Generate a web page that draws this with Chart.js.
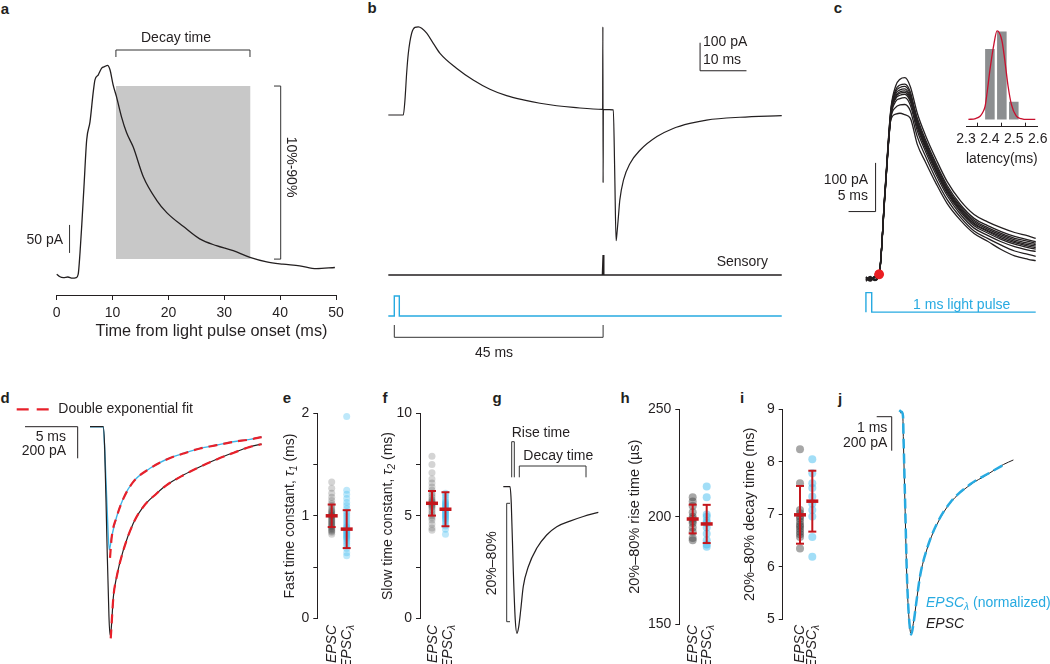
<!DOCTYPE html>
<html>
<head>
<meta charset="utf-8">
<script src="https://cdn.jsdelivr.net/npm/chart.js@4.4.1/dist/chart.umd.min.js"></script>
<style>
  body { margin: 0; background: #fff; width: 1050px; height: 664px; position: relative; overflow: hidden;
         font-family: "Liberation Sans", Arial, Helvetica, sans-serif; }
  canvas { position: absolute; }
  .lt { position: absolute; font-weight: bold; font-size: 15px; color: #231f20; transform: translate(-50%, -50%); }
</style>
</head>
<body>
<div class="lt" style="left:5px;top:8px">a</div>
<div class="lt" style="left:372px;top:7px">b</div>
<div class="lt" style="left:838px;top:7px">c</div>
<div class="lt" style="left:5px;top:397px">d</div>
<div class="lt" style="left:287px;top:397px">e</div>
<div class="lt" style="left:385px;top:397px">f</div>
<div class="lt" style="left:497px;top:397px">g</div>
<div class="lt" style="left:625px;top:397px">h</div>
<div class="lt" style="left:742px;top:397px">i</div>
<div class="lt" style="left:840px;top:398px">j</div>

<canvas id="pa"></canvas>
<canvas id="pb"></canvas>
<canvas id="pc"></canvas>
<canvas id="pcHist"></canvas>
<canvas id="pd"></canvas>
<canvas id="pe"></canvas>
<canvas id="pf"></canvas>
<canvas id="pg"></canvas>
<canvas id="ph"></canvas>
<canvas id="pi"></canvas>
<canvas id="pj"></canvas>

<script>
// --- Data ---

// a: EPSC evoked by light (time in ms, current in pA, outward up)
const aTime = [0, 0.5, 1.2, 2.0, 2.8, 3.5, 3.85, 4.17, 4.47, 4.88, 5.37, 5.96, 6.55, 6.85, 7.45, 8.05, 8.64, 9.1, 9.54, 10.1, 10.7, 11.6, 12.5, 13.7, 15.5, 17.9, 19.7, 22.7, 25.6, 28.6, 31.6, 34.6, 37.6, 40.5, 43.5, 46.5, 49.8];
const aCurrent = [5, 1, -1, 0, -2, -1, 5, 43, 90, 161, 245, 277, 331, 352, 361, 373, 376, 378, 370, 343, 322, 286, 258, 232, 179, 137, 115, 90, 68, 56, 47, 35, 27, 23, 20, 15, 17];
const aBandTime = [10.6, 34.7];     // decay-time window
const aBandLevel = [32, 341];       // 10% and 90% levels

// b: light then sensory stimulation
const bTime = [-1.29, 1.94, 2.3, 2.66, 3.02, 3.74, 4.46, 5.18, 5.9, 6.98, 8.4, 9.85, 13.4, 17.0, 20.6, 24.2, 27.8, 31.4, 35.0, 38.6, 44.9, 44.95, 45.0, 45.05, 45.1, 47.2, 47.5, 47.8, 48.0, 48.3, 48.6, 49.4, 50.8, 53.0, 56.6, 60.1, 63.7, 67.3, 74.5, 83.5];
const bCurrent = [0, 0, 54, 149, 220, 292, 313, 315, 310, 292, 256, 220, 167, 125, 92, 69, 54, 42, 33, 27, 20, 315, -242, 20, 20, 18, -200, -449, -420, -363, -304, -232, -173, -125, -77, -48, -30, -18, -8, -2];
const bSensTime = [-1.29, 44.85, 45.0, 45.15, 83.5];
const bSens = [0, 0, 1, 0, 0];
const bLightTime = [-1.29, 0, 0, 1.08, 1.08, 83.5];
const bLight = [0, 0, 1, 1, 0, 0];

// c: ten overlaid light-evoked EPSCs
const cTime = [0, 0.8, 1.6, 2.45, 3.5, 4.6, 5.5, 6.3, 7.2, 8.2, 9.5, 11, 13, 15, 17.5, 20, 22.5, 25, 27.5, 30, 31.4];
const cCurrent = [
  [3, -4, 5, 9, 178, 348, 396, 410, 413, 395, 340, 295, 245, 200, 160, 132, 117, 105, 95, 88, 83],
  [-5, 2, -3, 8, 172, 345, 388, 398, 400, 384, 326, 282, 232, 188, 148, 120, 105, 93, 83, 77, 73],
  [2, -3, 4, 10, 176, 343, 384, 393, 395, 379, 322, 278, 228, 185, 145, 117, 102, 90, 80, 73, 70],
  [-2, 5, -4, 9, 170, 340, 380, 388, 390, 375, 330, 286, 236, 192, 152, 124, 109, 97, 87, 80, 76],
  [4, -2, 3, 11, 175, 338, 376, 384, 386, 371, 315, 272, 222, 179, 140, 112, 97, 84, 74, 67, 64],
  [-3, 3, -1, 8, 168, 336, 373, 381, 383, 368, 318, 275, 225, 182, 142, 114, 99, 87, 77, 70, 67],
  [1, -5, 2, 10, 174, 334, 370, 377, 379, 364, 311, 268, 219, 176, 137, 109, 94, 81, 71, 64, 61],
  [-1, 4, -2, 9, 169, 331, 364, 370, 372, 357, 304, 262, 213, 171, 132, 104, 89, 76, 66, 59, 56],
  [3, -2, 5, 10, 173, 329, 352, 357, 358, 345, 292, 252, 204, 163, 126, 98, 83, 69, 57, 50, 46],
  [-3, 1, -3, 9, 171, 326, 338, 340, 337, 330, 276, 240, 195, 155, 120, 93, 77, 60, 47, 40, 37]
];
const cOnsetLatency = [2.38, 2.40, 2.41, 2.42, 2.44, 2.45, 2.45, 2.46, 2.47, 2.51];
const cOnsetCurrent = [9, 9, 10, 8, 9, 10, 9, 8, 10, 9];
const cLightTime = [0, 0, 1.07, 1.07, 31.4];
const cLight = [0, 1, 1, 0, 0];
const cBinLatency = [2.40, 2.45, 2.50];
const cBinCount = [4, 5, 1];
const cFitLatency = [2.31, 2.34, 2.36, 2.372, 2.38, 2.39, 2.40, 2.417, 2.43, 2.45, 2.462, 2.476, 2.49, 2.51, 2.53, 2.56, 2.59];
const cFitCount = [0, 0.05, 0.2, 0.45, 0.75, 1.7, 2.8, 4.3, 5.03, 4.5, 3.4, 1.9, 0.85, 0.2, 0.05, 0, 0];

// d: EPSC (black) and EPSC-lambda (blue) with double exponential fits
const dBlackTime = [0, 1.26, 1.4, 1.6, 1.8, 1.9, 2.0, 2.22, 2.53, 3.17, 4.11, 5.06, 6.33, 7.28, 8.86, 10.45, 12.03, 13.6, 15.2, 16.3];
const dBlack = [0, 0, -150, -700, -1200, -1318, -1290, -1076, -949, -780, -611, -506, -422, -369, -306, -253, -206, -165, -127, -110];
const dBlueTime = [0, 1.26, 1.45, 1.65, 1.83, 2.06, 2.53, 3.17, 4.11, 5.7, 7.28, 8.86, 10.45, 12.03, 13.6, 15.2, 16.3];
const dBlue = [0, 0, -230, -560, -780, -696, -570, -453, -348, -263, -206, -169, -137, -116, -95, -80, -65];
const dFitBlackTime = [1.97, 2.22, 2.53, 3.17, 4.11, 5.06, 6.33, 7.28, 8.86, 10.45, 12.03, 13.6, 15.2, 16.3];
const dFitBlack = [-1340, -1080, -952, -782, -612, -507, -423, -370, -307, -254, -207, -166, -128, -111];
const dFitBlueTime = [1.9, 2.06, 2.53, 3.17, 4.11, 5.7, 7.28, 8.86, 10.45, 12.03, 13.6, 15.2, 16.3];
const dFitBlue = [-830, -700, -572, -455, -349, -264, -207, -170, -138, -117, -96, -81, -66];

// e, f, h, i: per-cell values, EPSC (grey) vs EPSC-lambda (blue), mean and SD
const eEPSC = [1.33, 1.27, 1.22, 1.18, 1.15, 1.12, 1.1, 1.08, 1.06, 1.05, 1.04, 1.03, 1.02, 1.01, 1.0, 1.0, 0.99, 0.98, 0.97, 0.96, 0.95, 0.94, 0.93, 0.92, 0.91, 0.9, 0.89, 0.88, 0.87, 0.86, 0.85, 0.84, 0.82];
const eLambda = [1.97, 1.25, 1.21, 1.17, 1.13, 1.1, 1.07, 1.04, 1.02, 1.0, 0.98, 0.96, 0.94, 0.92, 0.9, 0.89, 0.88, 0.87, 0.86, 0.85, 0.84, 0.83, 0.82, 0.81, 0.8, 0.79, 0.78, 0.77, 0.75, 0.73, 0.71, 0.68, 0.64, 0.61];
const eMean = [1.0, 0.87];
const eSD = [0.11, 0.185];

const fEPSC = [7.9, 7.5, 7.1, 6.8, 6.6, 6.4, 6.25, 6.1, 6.0, 5.9, 5.8, 5.75, 5.7, 5.65, 5.6, 5.55, 5.5, 5.45, 5.4, 5.3, 5.2, 5.1, 5.0, 4.9, 4.8, 4.6, 4.4, 4.3];
const fLambda = [6.1, 6.0, 5.9, 5.8, 5.7, 5.65, 5.6, 5.55, 5.5, 5.45, 5.4, 5.35, 5.3, 5.25, 5.2, 5.15, 5.1, 5.05, 5.0, 4.95, 4.9, 4.85, 4.8, 4.7, 4.6, 4.5, 4.35, 4.1];
const fMean = [5.61, 5.32];
const fSD = [0.6, 0.83];

const hEPSC = [209, 207, 205, 202, 200, 199, 198, 197, 195, 193, 190, 189];
const hLambda = [214, 209, 201, 200, 198, 197, 195, 192, 189, 187, 186];
const hMean = [198.9, 196.6];
const hSD = [6.7, 8.9];

const iEPSC = [8.24, 7.59, 7.08, 7.02, 6.96, 6.92, 6.86, 6.8, 6.77, 6.72, 6.67, 6.62, 6.57, 6.35];
const iLambda = [8.05, 7.78, 7.59, 7.5, 7.34, 7.2, 7.08, 6.96, 6.57, 6.19];
const iMean = [6.99, 7.25];
const iSD = [0.55, 0.58];

// g: schematic EPSC
const gTime = [0, 0.64, 0.76, 0.95, 1.14, 1.3, 1.47, 1.66, 1.9, 2.38, 3.18, 4.13, 5.09, 6.35, 7.62, 9.05];
const gCurrent = [0, 0, -150, -750, -1201, -1321, -1261, -1111, -901, -721, -555, -435, -360, -310, -268, -231];

// j: EPSC vs normalized EPSC-lambda
const jTime = [0, 0.18, 0.22, 0.33, 0.44, 0.56, 0.73, 0.89, 1.11, 1.33, 1.78, 2.44, 3.33, 4.67, 5.78, 6.89, 7.56];
const jCurrent = [0, 0, -141, -533, -925, -1160, -1298, -1239, -1102, -965, -808, -661, -533, -425, -366, -305, -278];
const jLambdaTime = [-0.05, 0.1, 0.2, 0.24, 0.35, 0.46, 0.58, 0.75, 0.9, 1.12, 1.35, 1.8, 2.45, 3.35, 4.7, 5.8, 7.1];
const jLambda = [15, 5, -20, -160, -560, -950, -1180, -1305, -1240, -1095, -955, -800, -655, -528, -420, -362, -298];

// --- Styling helpers ---
const INK = '#231f20';
const BLUE = '#27aae1';
const RED = '#c4161c';
const FIT_RED = '#e8202a';
const FONT = '"Liberation Sans", Arial, Helvetica, sans-serif';

Chart.defaults.font.family = FONT;
Chart.defaults.font.size = 14;
Chart.defaults.color = INK;

const xy = (xs, ys) => xs.map((x, i) => ({ x, y: ys[i] }));

function trace(xs, ys, color, width, extra) {
  return Object.assign({
    type: 'line', data: xy(xs, ys), borderColor: color, borderWidth: width,
    pointRadius: 0, fill: false, cubicInterpolationMode: 'monotone', clip: false
  }, extra);
}

const hidden = (min, max) => ({ type: 'linear', display: false, min, max });

// text with italic / subscript runs, optional rotation (page coordinates)
function drawRich(ctx, item, ox, oy) {
  const size = item.size || 14;
  const parts = typeof item.t === 'string' ? [{ s: item.t }] : item.t;
  const fontOf = p => (p.i ? 'italic ' : '') + (p.sub ? size * 0.72 : size) + 'px ' + FONT;
  const widths = parts.map(p => { ctx.font = fontOf(p); return ctx.measureText(p.s).width; });
  const w = widths.reduce((a, b) => a + b, 0);
  ctx.save();
  ctx.translate(item.x - ox, item.y - oy);
  if (item.rot) ctx.rotate(item.rot * Math.PI / 180);
  let x = item.align === 'right' ? -w : item.align === 'left' ? 0 : -w / 2;
  ctx.textBaseline = 'middle';
  ctx.textAlign = 'left';
  parts.forEach((p, k) => {
    ctx.font = fontOf(p);
    ctx.fillStyle = p.c || item.c || INK;
    ctx.fillText(p.s, x, p.sub ? size * 0.3 : 0);
    x += widths[k];
  });
  ctx.restore();
}

// scale bars, brackets and labels
function annotations(box, spec) {
  return {
    id: 'annot',
    afterDatasetsDraw(chart) {
      const ctx = chart.ctx, ox = box[0], oy = box[1];
      ctx.save();
      (spec.lines || []).forEach(l => {
        const sx = chart.scales.x, sy = chart.scales[l.axis || 'y'];
        ctx.beginPath();
        l.pts.forEach((p, i) => {
          const X = l.px ? p[0] - ox : sx.getPixelForValue(p[0]);
          const Y = l.py ? p[1] - oy : sy.getPixelForValue(p[1]);
          if (i) ctx.lineTo(X, Y); else ctx.moveTo(X, Y);
        });
        ctx.strokeStyle = l.color || INK;
        ctx.lineWidth = l.width || 1;
        ctx.setLineDash(l.dash || []);
        ctx.stroke();
      });
      ctx.setLineDash([]);
      (spec.texts || []).forEach(t => drawRich(ctx, t, ox, oy));
      ctx.restore();
    }
  };
}

function panel(id, box, scales, datasets, spec, padding) {
  const cv = document.getElementById(id);
  cv.width = box[2];
  cv.height = box[3];
  cv.style.left = box[0] + 'px';
  cv.style.top = box[1] + 'px';
  return new Chart(cv, {
    type: 'scatter',
    data: { datasets },
    options: {
      responsive: false, animation: false, events: [],
      layout: { padding: padding || 0 },
      plugins: { legend: { display: false }, tooltip: { enabled: false } },
      scales
    },
    plugins: [annotations(box, spec || {})]
  });
}

function yAxis(min, max, step, width, fmt) {
  return {
    type: 'linear', position: 'left', min, max,
    afterFit: s => { s.width = width; },
    border: { display: true, color: INK, width: 1 },
    grid: { display: true, drawOnChartArea: false, drawTicks: true, tickLength: 4, color: INK },
    ticks: { stepSize: step, padding: 4, color: INK, font: { size: 14 }, callback: fmt || (v => v) }
  };
}

function stripSets(groups, means, sds, r, alpha) {
  const cols = ['rgba(60,60,60,' + alpha[0] + ')', 'rgba(70,190,240,' + alpha[1] + ')'];
  const sets = [];
  groups.forEach((vals, k) => {
    const x = k + 1;
    const ends = [{ x, y: means[k] - sds[k] }, { x, y: means[k] + sds[k] }];
    sets.push({ type: 'scatter', data: vals.map(v => ({ x, y: v })), pointRadius: r,
      pointBackgroundColor: cols[k], pointBorderWidth: 0, order: 3, clip: false });
    sets.push({ type: 'line', data: ends, borderColor: RED, borderWidth: 2, pointRadius: 0, order: 1, clip: false });
    sets.push({ type: 'scatter', data: ends, pointStyle: 'line', pointRadius: 4,
      pointBorderColor: RED, pointBorderWidth: 2, order: 0, clip: false });
    sets.push({ type: 'scatter', data: [{ x, y: means[k] }], pointStyle: 'line', pointRadius: 6,
      pointBorderColor: RED, pointBorderWidth: 3.5, order: 0, clip: false });
  });
  return sets;
}

const groupLabels = (x1, x2) => [
  { x: x1, y: 625, rot: -90, align: 'right', t: [{ s: 'EPSC', i: 1 }] },
  { x: x2, y: 625, rot: -90, align: 'right', t: [{ s: 'EPSC', i: 1 }, { s: 'λ', i: 1, sub: 1 }] }
];

// --- a: decay time of light-evoked EPSC ---
panel('pa', [0, 0, 350, 345], {
  x: {
    type: 'linear', position: 'bottom', min: 0, max: 50,
    afterFit: s => { s.height = 50; },
    border: { display: true, color: INK },
    grid: { drawOnChartArea: false, tickLength: 5, color: INK },
    ticks: { stepSize: 10, padding: 5, color: INK, maxRotation: 0 }
  },
  y: hidden(-32.1, 458.9)
}, [
  trace(aTime, aCurrent, INK, 1.3, { order: 0 }),
  { type: 'line', data: xy(aBandTime, [aBandLevel[1], aBandLevel[1]]), borderWidth: 0, pointRadius: 0,
    backgroundColor: '#c8c8c8', fill: { value: aBandLevel[0] }, order: 1 }
], {
  lines: [
    { pts: [[aBandTime[0], 57], [aBandTime[0], 50], [aBandTime[1] - 0.1, 50], [aBandTime[1] - 0.1, 57]], py: true, color: '#333' },
    { pts: [[274, aBandLevel[1]], [280.7, aBandLevel[1]], [280.7, aBandLevel[0]], [274, aBandLevel[0]]], px: true, color: '#333' },
    { pts: [[2.3, 43], [2.3, 93]], color: '#333' }
  ],
  texts: [
    { x: 176, y: 38, t: 'Decay time' },
    { x: 291, y: 167, t: '10%-90%', rot: 90 },
    { x: 63, y: 240, t: '50 pA', align: 'right' },
    { x: 211.5, y: 332, t: 'Time from light pulse onset (ms)', size: 16.3 }
  ]
}, { left: 56.7, right: 14, top: 20, bottom: 0 });

// --- b: light pulse then sensory stimulation ---
panel('pb', [380, 0, 410, 370], {
  x: hidden(-3.082, 85.28),
  y: hidden(-910.7, 410.7),
  ySens: hidden(-4.75, 13.75),
  yLight: hidden(-2.7, 15.8)
}, [
  trace(bTime, bCurrent, INK, 1.2),
  trace(bSensTime, bSens, INK, 1.4, { yAxisID: 'ySens', cubicInterpolationMode: 'default', tension: 0 }),
  trace(bLightTime, bLight, BLUE, 1.4, { yAxisID: 'yLight', cubicInterpolationMode: 'default', tension: 0 })
], {
  lines: [
    { pts: [[65.9, 258], [65.9, 158], [75.9, 158]] },
    { pts: [[0, 325], [0, 337.3], [45, 337.3], [45, 325]], py: true, color: '#333' }
  ],
  texts: [
    { x: 703, y: 42.5, t: '100 pA', align: 'left' },
    { x: 703, y: 60, t: '10 ms', align: 'left' },
    { x: 768, y: 261.7, t: 'Sensory', align: 'right' },
    { x: 494, y: 353, t: '45 ms' }
  ]
});

// --- c: overlaid traces and latency histogram ---
panel('pc', [790, 0, 260, 340], {
  x: hidden(-13.21, 33.21),
  y: hidden(-116.6, 563.4),
  yLight: hidden(-1.2, 15.8)
}, [
  ...cCurrent.map(vals => trace(cTime, vals, INK, 1.3, { order: 1 })),
  { type: 'scatter', data: xy(cOnsetLatency, cOnsetCurrent), pointRadius: 4.5,
    pointBackgroundColor: 'rgba(235,30,35,0.45)', pointBorderWidth: 0, order: 0 },
  trace(cLightTime, cLight, BLUE, 1.4, { yAxisID: 'yLight', cubicInterpolationMode: 'default', tension: 0 })
], {
  lines: [{ pts: [[-3.214, 138], [1.786, 138], [1.786, 238]] }],
  texts: [
    { x: 868, y: 180, t: '100 pA', align: 'right' },
    { x: 868, y: 196.5, t: '5 ms', align: 'right' },
    { x: 961.7, y: 305, t: '1 ms light pulse', c: BLUE }
  ]
});

panel('pcHist', [955, 20, 95, 150], {
  x: {
    type: 'linear', position: 'bottom', min: 2.3, max: 2.6, offset: false,
    afterFit: s => { s.height = 43.3; },
    border: { display: true, color: INK },
    grid: { drawOnChartArea: false, tickLength: -4, color: INK },
    ticks: { stepSize: 0.1, padding: 1, color: INK, maxRotation: 0, autoSkip: false,
             font: { size: 14, lineHeight: 2.25 }, callback: v => v.toFixed(1) },
    title: { display: true, text: 'latency(ms)', color: INK, padding: { top: 0, bottom: 2.3 } }
  },
  y: hidden(-0.412, 5.65)
}, [
  trace(cFitLatency, cFitCount, '#c8102e', 1.3, { order: 0 }),
  { type: 'bar', data: xy(cBinLatency, cBinCount), backgroundColor: '#8c8e90',
    barPercentage: 0.8, categoryPercentage: 1, order: 1 }
], {}, { left: 11, right: 12.3, top: 0, bottom: 0 });

// --- d: double exponential fits ---
panel('pd', [0, 375, 275, 275], {
  x: hidden(-8.547, 17.569),
  y: hidden(-1413.3, 327.2)
}, [
  trace(dBlackTime, dBlack, INK, 1.2, { order: 1 }),
  trace(dBlueTime, dBlue, '#3fb5e6', 1.4, { order: 2 }),
  trace(dFitBlackTime, dFitBlack, FIT_RED, 2.2, { borderDash: [9, 6], order: 0 }),
  trace(dFitBlueTime, dFitBlue, FIT_RED, 2.2, { borderDash: [9, 6], order: 0 })
], {
  lines: [
    { pts: [[16.7, 409.3], [51.7, 409.3]], px: true, py: true, color: FIT_RED, width: 2.2, dash: [12, 8] },
    { pts: [[-6.17, 0], [-1.17, 0], [-1.17, -200]] }
  ],
  texts: [
    { x: 58.3, y: 409.3, t: 'Double exponential fit', align: 'left' },
    { x: 66, y: 436.7, t: '5 ms', align: 'right' },
    { x: 66, y: 451, t: '200 pA', align: 'right' }
  ]
});

// --- e: fast time constant ---
panel('pe', [270, 380, 105, 284], {
  x: hidden(0.04, 3.22),
  y: yAxis(0, 2, 0.5, 47.3, v => Number.isInteger(v) ? v : '')
}, stripSets([eEPSC, eLambda], eMean, eSD, 3.5, [0.22, 0.35]), {
  texts: [
    { x: 290, y: 516, rot: -90, t: [{ s: 'Fast time constant, ' }, { s: 'τ', i: 1 }, { s: '1', i: 1, sub: 1 }, { s: ' (ms)' }] },
    ...groupLabels(331.7, 346.7)
  ]
}, { left: 0, top: 33.3, right: 10, bottom: 45.7 });

// --- f: slow time constant ---
panel('pf', [375, 380, 95, 284], {
  x: hidden(0.113, 3.113),
  y: yAxis(0, 10, 2.5, 45, v => v % 5 === 0 ? v : '')
}, stripSets([fEPSC, fLambda], fMean, fSD, 3.5, [0.22, 0.35]), {
  texts: [
    { x: 388.3, y: 516, rot: -90, t: [{ s: 'Slow time constant, ' }, { s: 'τ', i: 1 }, { s: '2', i: 1, sub: 1 }, { s: ' (ms)' }] },
    ...groupLabels(433.3, 448.3)
  ]
}, { left: 0, top: 33.3, right: 5, bottom: 45.7 });

// --- g: definition of rise and decay time ---
panel('pg', [480, 380, 130, 270], {
  x: hidden(-2.219, 10.162),
  y: hidden(-1471.2, 961.3)
}, [
  trace(gTime, gCurrent, INK, 1.2)
], {
  lines: [
    { pts: [[511.7, 477.3], [511.7, 441.7], [514.3, 441.7], [514.3, 477.3]], px: true, py: true, color: '#333' },
    { pts: [[519.3, 477.3], [519.3, 466], [586, 466], [586, 477.3]], px: true, py: true, color: '#333' },
    { pts: [[510, 503.3], [506.7, 503.3], [506.7, 621.7], [510, 621.7]], px: true, py: true, color: '#333' }
  ],
  texts: [
    { x: 511.7, y: 432.7, t: 'Rise time', align: 'left' },
    { x: 523.3, y: 456, t: 'Decay time', align: 'left' },
    { x: 491.7, y: 563.3, t: '20%–80%', rot: -90 }
  ]
});

// --- h: rise time ---
panel('ph', [610, 380, 130, 284], {
  x: hidden(0.043, 3.307),
  y: yAxis(150, 250, 50, 69.3)
}, stripSets([hEPSC, hLambda], hMean, hSD, 4, [0.45, 0.5]), {
  texts: [
    { x: 635, y: 516.7, rot: -90, t: '20%–80% rise time (µs)', size: 14.5 },
    ...groupLabels(692.7, 706.7)
  ]
}, { left: 0, top: 29.3, right: 15, bottom: 40 });

// --- i: decay time ---
panel('pi', [740, 380, 100, 284], {
  x: hidden(-0.407, 3.439),
  y: yAxis(5, 9, 1, 42.7)
}, stripSets([iEPSC, iLambda], iMean, iSD, 4, [0.45, 0.5]), {
  texts: [
    { x: 750, y: 514.3, rot: -90, t: '20%–80% decay time (ms)', size: 14.5 },
    ...groupLabels(800, 812.3)
  ]
}, { left: 0, top: 29.3, right: 10, bottom: 44.7 });

// --- j: normalized comparison ---
panel('pj', [840, 380, 210, 284], {
  x: hidden(-4, 10),
  y: hidden(-1478.2, 192.4)
}, [
  trace(jTime, jCurrent, INK, 1.0, { order: 1 }),
  trace(jLambdaTime, jLambda, BLUE, 2.5, { borderDash: [10, 5], order: 0 })
], {
  lines: [{ pts: [[-1.553, -23.5], [-0.553, -23.5], [-0.553, -223.5]] }],
  texts: [
    { x: 887.3, y: 428.3, t: '1 ms', align: 'right' },
    { x: 887.3, y: 442.7, t: '200 pA', align: 'right' },
    { x: 926, y: 603.3, align: 'left', t: [{ s: 'EPSC', i: 1, c: BLUE }, { s: 'λ', i: 1, sub: 1, c: BLUE }, { s: ' (normalized)', c: BLUE }] },
    { x: 926, y: 624, align: 'left', t: [{ s: 'EPSC', i: 1 }] }
  ]
});
</script>
</body>
</html>
